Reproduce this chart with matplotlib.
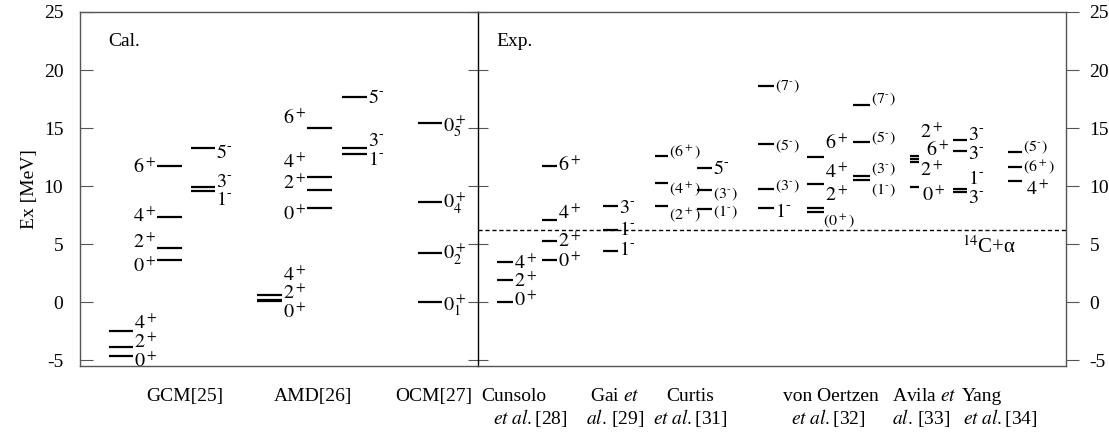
import matplotlib
matplotlib.use('Agg')
import matplotlib.pyplot as plt
import matplotlib.transforms as mtransforms

plt.rcParams['font.family'] = ['Liberation Serif', 'DejaVu Serif']
plt.rcParams['mathtext.fontset'] = 'stix'
plt.rcParams['axes.unicode_minus'] = False

# level energies (MeV) and spin-parities, one list pair per column
gcm_gs_jp = ['0^+', '2^+', '4^+']
gcm_gs_ex = [-4.6, -3.9, -2.45]
gcm_pos_jp = ['0^+', '2^+', '4^+', '6^+']
gcm_pos_ex = [3.6, 4.65, 7.3, 11.7]
gcm_neg_jp = ['1^-', '3^-', '5^-']
gcm_neg_ex = [9.55, 9.9, 13.25]

amd_gs_jp = ['0^+', '2^+', '4^+']
amd_gs_ex = [0.1, 0.15, 0.65]
amd_pos_jp = ['0^+', '2^+', '4^+', '6^+']
amd_pos_ex = [8.1, 9.65, 10.8, 15.0]
amd_neg_jp = ['1^-', '3^-', '5^-']
amd_neg_ex = [12.75, 13.3, 17.65]

ocm_jp = ['0^+_1', '0^+_2', '0^+_4', '0^+_5']
ocm_ex = [0.0, 4.25, 8.6, 15.45]

cunsolo_a_jp = ['0^+', '2^+', '4^+']
cunsolo_a_ex = [0.0, 1.95, 3.5]
cunsolo_b_jp = ['0^+', '2^+', '4^+', '6^+']
cunsolo_b_ex = [3.65, 5.3, 7.1, 11.7]
gai_jp = ['1^-', '1^-', '3^-']
gai_ex = [4.45, 6.25, 8.25]
curtis_a_jp = ['(2^+)', '(4^+)', '(6^+)']
curtis_a_ex = [8.25, 10.3, 12.6]
curtis_b_jp = ['(1^-)', '(3^-)', '5^-']
curtis_b_ex = [8.05, 9.65, 11.6]
vo_a_jp = ['1^-', '(3^-)', '(5^-)', '(7^-)']
vo_a_ex = [8.1, 9.75, 13.6, 18.6]
vo_b_jp = ['(0^+)', '2^+', '4^+', '6^+']
vo_b_ex = [7.75, 8.15, 10.2, 12.5]
vo_c_jp = ['(1^-)', '(3^-)', '(5^-)', '(7^-)']
vo_c_ex = [10.55, 10.9, 13.8, 17.0]
avila_a_jp = ['0^+', '2^+', '6^+', '2^+']
avila_a_ex = [9.9, 12.05, 12.3, 12.6]
avila_b_jp = ['3^-', '1^-', '3^-', '3^-']
avila_b_ex = [9.45, 9.75, 13.0, 14.0]
yang_jp = ['4^+', '(6^+)', '(5^-)']
yang_ex = [10.4, 11.65, 12.9]

threshold = 6.23

cal_names = ['GCM[25]', 'AMD[26]', 'OCM[27]']
exp_names = [('Cunsolo', r'$\mathit{et\ al.}$[28]'),
             (r'Gai $\mathit{et}$', r'$\mathit{al.}\,$[29]'),
             ('Curtis', r'$\mathit{et\ al.}$[31]'),
             ('von Oertzen', r'$\mathit{et\ al.}$[32]'),
             (r'Avila $\mathit{et}$', r'$\mathit{al.}\,$[33]'),
             ('Yang', r'$\mathit{et\ al.}$[34]')]

# drawing layout: (jp, ex, x0, x1, label side, label y, label x shift)
left_cols = [
    (gcm_gs_jp, gcm_gs_ex, 109, 133, 'right', [-5.2, -3.55, -1.9], [0, 0, 0]),
    (gcm_pos_jp, gcm_pos_ex, 157, 182, 'left', [3.05, 5.05, 7.3, 11.5], [0, 0, 0, 0]),
    (gcm_neg_jp, gcm_neg_ex, 191, 215, 'right', [8.75, 10.3, 12.85], [0, 0, 0]),
    (amd_gs_jp, amd_gs_ex, 257, 282, 'right', [-0.95, 0.7, 2.2], [0, 0, 0]),
    (amd_pos_jp, amd_pos_ex, 307, 332, 'left', [7.45, 10.15, 11.95, 15.75], [0, 0, 0, 0]),
    (amd_neg_jp, amd_neg_ex, 342, 367, 'right', [12.2, 13.85, 17.55], [0, 0, 0]),
    (ocm_jp, ocm_ex, 418, 442, 'right', [-0.25, 4.15, 8.55, 15.15], [0, 0, 0, 0]),
]
right_cols = [
    (cunsolo_a_jp, cunsolo_a_ex, 497, 513, 'right', [0.1, 1.75, 3.3], [0, 0, 0]),
    (cunsolo_b_jp, cunsolo_b_ex, 542, 557, 'right', [3.45, 5.15, 7.6, 11.75], [0, 0, 0, 0]),
    (gai_jp, gai_ex, 603, 618, 'right', [4.45, 6.15, 8.1], [0, 0, 0]),
    (curtis_a_jp, curtis_a_ex, 655, 668, 'right', [7.5, 9.75, 12.9], [0, 0, 0]),
    (curtis_b_jp, curtis_b_ex, 697, 712, 'right', [7.75, 9.3, 11.45], [0, 0, 0]),
    (vo_a_jp, vo_a_ex, 758, 774, 'right', [7.75, 10.0, 13.45, 18.6], [0, 0, 0, 0]),
    (vo_b_jp, vo_b_ex, 807, 824, 'right', [7.0, 9.15, 11.15, 13.6], [-2, 0, 0, 0]),
    (vo_c_jp, vo_c_ex, 853, 870, 'right', [9.65, 11.45, 14.15, 17.45], [0, 0, 0, 0]),
    (avila_a_jp, avila_a_ex, 910, 919, 'right', [9.15, 11.3, 13.0, 14.6], [2, 0, 6, 0]),
    (avila_b_jp, avila_b_ex, 953, 967, 'right', [8.9, 10.6, 12.75, 14.35], [0, 0, 0, 0]),
    (yang_jp, yang_ex, 1008, 1022, 'right', [9.65, 11.65, 13.3], [3, 0, 0]),
]
cal_x = [185, 313, 434]
exp_x = [(514, 530), (615, 615), (690, 690), (831, 828), (924, 921), (982, 1000)]

spine_col = '#555555'
fs_jp, fs_paren = 14.5, 11.5
W, H = 1109, 436
fig = plt.figure(figsize=(W / 100, H / 100), dpi=100)
ax1 = fig.add_axes([80 / W, 70 / H, 398 / W, 354 / H])
ax2 = fig.add_axes([478 / W, 70 / H, 588 / W, 354 / H])
ax1.set_xlim(80, 478)
ax2.set_xlim(478, 1066)
yticks = [-5, 0, 5, 10, 15, 20, 25]
for ax in (ax1, ax2):
    ax.set_ylim(-5.5, 25)
    ax.set_yticks(yticks)
    ax.set_xticks([])
    for s in ax.spines.values():
        s.set_color(spine_col)
        s.set_linewidth(1.0)


def jp_label(j):
    # short hyphen for negative parity, as in the printed level schemes
    return '$' + j.replace('^-', r'^{\text{-}}') + '$'


def draw_levels(ax, cols):
    for jp, ex, x0, x1, side, ly, dx in cols:
        for j, e, y, d in zip(jp, ex, ly, dx):
            ax.plot([x0, x1], [e, e], color='black', lw=1.6, solid_capstyle='butt')
            fs = fs_paren if j.startswith('(') else fs_jp
            if side == 'right':
                ax.text(x1 + 1 + d, y, jp_label(j), ha='left', va='center', fontsize=fs)
            else:
                ax.text(x0 - 1 + d, y, jp_label(j), ha='right', va='center', fontsize=fs)


draw_levels(ax1, left_cols)
draw_levels(ax2, right_cols)

# left panel: ticks inside on the left, labels on the left
ax1.tick_params(axis='y', direction='in', length=9, color=spine_col,
                labelsize=14, right=False, pad=12)
ax1.spines['right'].set_visible(False)
ax1.set_ylabel('Ex [MeV]', fontsize=14, labelpad=4)

# right panel: crossing ticks on the divider, inward ticks + labels on the right
ax2.spines['left'].set_color('black')
ax2.tick_params(axis='y', which='both', left=True, right=True, labelleft=False,
                labelright=True, labelsize=14, color=spine_col, pad=10)
ax2.tick_params(axis='y', direction='inout', length=14)
for t in ax2.yaxis.get_major_ticks():
    t.tick2line.set_markersize(9)
    t.tick2line.set_marker(1)

ax2.axhline(threshold, color='black', lw=1.0, ls=(0, (3, 2)))
ax2.text(962, 4.7, '$^{14}$C+α', ha='left', va='center', fontsize=15)

ax1.text(108, 22.5, 'Cal.', ha='left', va='center', fontsize=14)
ax2.text(496, 22.5, 'Exp.', ha='left', va='center', fontsize=14)

tr1 = mtransforms.blended_transform_factory(ax1.transData, ax1.transAxes)
tr2 = mtransforms.blended_transform_factory(ax2.transData, ax2.transAxes)
for name, x in zip(cal_names, cal_x):
    ax1.text(x, -0.085, name, transform=tr1, ha='center', va='center',
             fontsize=14, clip_on=False)
for (top, bottom), (xt, xb) in zip(exp_names, exp_x):
    ax2.text(xt, -0.085, top, transform=tr2, ha='center', va='center',
             fontsize=14, clip_on=False)
    ax2.text(xb, -0.148, bottom, transform=tr2, ha='center', va='center',
             fontsize=14, clip_on=False)

fig.savefig('out.png', dpi=100)
